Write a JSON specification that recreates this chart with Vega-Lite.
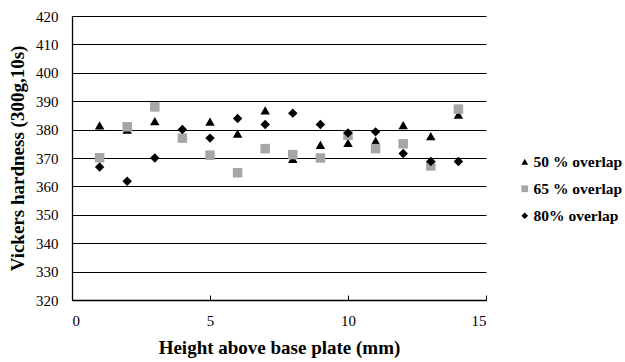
{
  "$schema": "https://vega.github.io/schema/vega-lite/v6.json",
  "width": 414,
  "height": 284,
  "autosize": {"type": "none"},
  "padding": {"left": 72, "top": 16, "right": 139, "bottom": 62},
  "background": "white",
  "config": {
    "view": {"stroke": null},
    "font": "Liberation Serif",
    "axis": {"labelFont": "Liberation Serif", "titleFont": "Liberation Serif"},
    "legend": {"labelFont": "Liberation Serif"}
  },
  "data": {"values": [
    {"h": 1, "hv": 381.5, "series": "50 % overlap"},
    {"h": 2, "hv": 380, "series": "50 % overlap"},
    {"h": 3, "hv": 383, "series": "50 % overlap"},
    {"h": 5, "hv": 382.8, "series": "50 % overlap"},
    {"h": 6, "hv": 378.6, "series": "50 % overlap"},
    {"h": 7, "hv": 386.8, "series": "50 % overlap"},
    {"h": 8, "hv": 369.7, "series": "50 % overlap"},
    {"h": 9, "hv": 374.6, "series": "50 % overlap"},
    {"h": 10, "hv": 375.3, "series": "50 % overlap"},
    {"h": 11, "hv": 376, "series": "50 % overlap"},
    {"h": 12, "hv": 381.6, "series": "50 % overlap"},
    {"h": 13, "hv": 377.7, "series": "50 % overlap"},
    {"h": 14, "hv": 385.3, "series": "50 % overlap"},
    {"h": 1, "hv": 370.1, "series": "65 % overlap"},
    {"h": 2, "hv": 381, "series": "65 % overlap"},
    {"h": 3, "hv": 388, "series": "65 % overlap"},
    {"h": 4, "hv": 377, "series": "65 % overlap"},
    {"h": 5, "hv": 371, "series": "65 % overlap"},
    {"h": 6, "hv": 364.8, "series": "65 % overlap"},
    {"h": 7, "hv": 373.3, "series": "65 % overlap"},
    {"h": 8, "hv": 371.2, "series": "65 % overlap"},
    {"h": 9, "hv": 370, "series": "65 % overlap"},
    {"h": 10, "hv": 378, "series": "65 % overlap"},
    {"h": 11, "hv": 373.3, "series": "65 % overlap"},
    {"h": 12, "hv": 375, "series": "65 % overlap"},
    {"h": 13, "hv": 367.2, "series": "65 % overlap"},
    {"h": 14, "hv": 387.2, "series": "65 % overlap"},
    {"h": 1, "hv": 366.8, "series": "80% overlap"},
    {"h": 2, "hv": 361.8, "series": "80% overlap"},
    {"h": 3, "hv": 370, "series": "80% overlap"},
    {"h": 4, "hv": 380, "series": "80% overlap"},
    {"h": 5, "hv": 377, "series": "80% overlap"},
    {"h": 6, "hv": 383.9, "series": "80% overlap"},
    {"h": 7, "hv": 381.8, "series": "80% overlap"},
    {"h": 8, "hv": 385.8, "series": "80% overlap"},
    {"h": 9, "hv": 381.8, "series": "80% overlap"},
    {"h": 10, "hv": 378.8, "series": "80% overlap"},
    {"h": 11, "hv": 379.2, "series": "80% overlap"},
    {"h": 12, "hv": 371.6, "series": "80% overlap"},
    {"h": 13, "hv": 368.8, "series": "80% overlap"},
    {"h": 14, "hv": 368.8, "series": "80% overlap"}
  ]},
  "mark": {"type": "point", "filled": true, "opacity": 1, "size": 90},
  "encoding": {
    "x": {
      "field": "h", "type": "quantitative",
      "scale": {"domain": [0, 15], "nice": false},
      "axis": {
        "values": [0, 5, 10, 15],
        "title": "Height above base plate (mm)",
        "titleFont": "Liberation Serif", "titleFontSize": 19, "titleFontWeight": "bold", "titleColor": "black",
        "titlePadding": 10,
        "labelFont": "Liberation Serif", "labelFontSize": 15, "labelColor": "black",
        "labelPadding": 18,
        "domainColor": "black", "domainWidth": 1.3,
        "tickColor": "black", "tickSize": -5,
        "grid": false
      }
    },
    "y": {
      "field": "hv", "type": "quantitative",
      "scale": {"domain": [320, 420], "nice": false, "zero": false},
      "axis": {
        "values": [320, 330, 340, 350, 360, 370, 380, 390, 400, 410, 420],
        "title": "Vickers hardness (300g,10s)",
        "titleFont": "Liberation Serif", "titleFontSize": 19, "titleFontWeight": "bold", "titleColor": "black",
        "titlePadding": 8,
        "labelFont": "Liberation Serif", "labelFontSize": 15, "labelColor": "black",
        "labelPadding": 14,
        "ticks": false,
        "domainColor": "black", "domainWidth": 1.3,
        "grid": true, "gridColor": "black", "gridWidth": 1.2, "gridOpacity": 1
      }
    },
    "shape": {
      "field": "series", "type": "nominal",
      "scale": {"domain": ["50 % overlap", "65 % overlap", "80% overlap"], "range": ["triangle-up", "square", "diamond"]},
      "legend": {
        "orient": "none", "legendX": 445, "legendY": 138, "title": null,
        "labelFont": "Liberation Serif", "labelFontSize": 15.5, "labelFontWeight": "bold", "labelColor": "black",
        "symbolSize": 45, "rowPadding": 10, "labelOffset": 1
      }
    },
    "color": {
      "field": "series", "type": "nominal",
      "scale": {"domain": ["50 % overlap", "65 % overlap", "80% overlap"], "range": ["#000000", "#A6A6A6", "#000000"]},
      "legend": {
        "orient": "none", "legendX": 445, "legendY": 138, "title": null,
        "labelFont": "Liberation Serif", "labelFontSize": 15.5, "labelFontWeight": "bold", "labelColor": "black",
        "symbolSize": 45, "rowPadding": 10, "labelOffset": 1
      }
    }
  }
}
